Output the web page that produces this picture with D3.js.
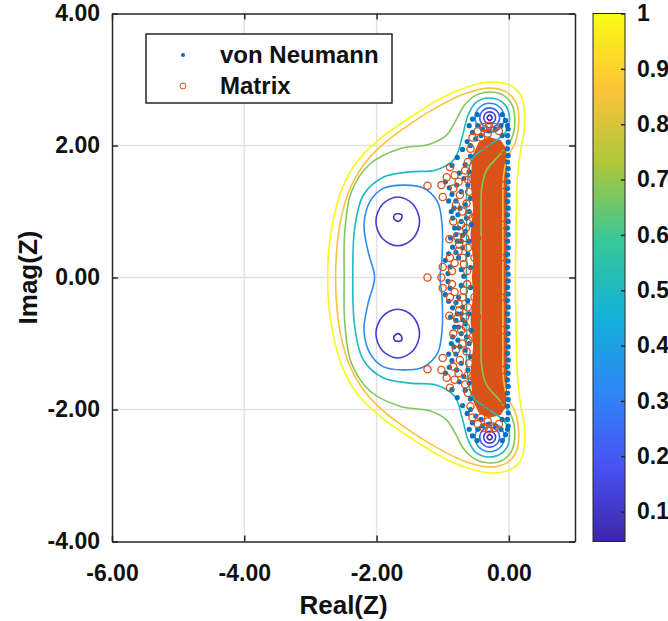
<!DOCTYPE html>
<html>
<head>
<meta charset="utf-8">
<script src="https://cdn.jsdelivr.net/npm/d3@7"></script>
<style>
  body { margin: 0; background: #fff; }
  svg { display: block; }
  text { font-family: "Liberation Sans", Arial, sans-serif; font-weight: bold; fill: #111; }
</style>
</head>
<body>
<div id="chart"></div>
<script>
// axis ticks
const xTicks = [-6, -4, -2, 0];
const yTicks = [-4, -2, 0, 2, 4];
const cbTicks = [0.1, 0.2, 0.3, 0.4, 0.5, 0.6, 0.7, 0.8, 0.9, 1];
const cbRange = [0.046, 1];
const parula = ['#3e26a8', '#4852f4', '#2e87f7', '#12b1d6', '#37c897', '#abc739', '#fec338', '#f9fb15'];

// contour lines (Real, Imag)
const lvl100 = [[0.10,0],[0.11,0.8],[0.13,1.5],[0.18,1.95],[0.23,2.2],[0.24,2.5],[0.17,2.78],[0.0,2.92],[-0.3,2.96],[-0.65,2.88],[-1.05,2.7],[-1.5,2.42],[-1.95,2.1],[-2.3,1.75],[-2.52,1.35],[-2.65,0.9],[-2.72,0.45],[-2.74,0],[-2.72,-0.45],[-2.65,-0.9],[-2.52,-1.35],[-2.3,-1.75],[-1.95,-2.1],[-1.5,-2.42],[-1.05,-2.7],[-0.65,-2.88],[-0.3,-2.96],[0.0,-2.92],[0.17,-2.78],[0.24,-2.5],[0.23,-2.2],[0.18,-1.95],[0.13,-1.5],[0.11,-0.8]];
const lvl086 = [[-0.09,0],[-0.09,1.0],[-0.08,1.55],[-0.02,1.82],[0.1,2.05],[0.15,2.35],[0.12,2.62],[-0.02,2.8],[-0.29,2.87],[-0.65,2.79],[-1.05,2.6],[-1.5,2.32],[-1.9,2.02],[-2.2,1.7],[-2.42,1.3],[-2.54,0.88],[-2.6,0.45],[-2.62,0],[-2.6,-0.45],[-2.54,-0.88],[-2.42,-1.3],[-2.2,-1.7],[-1.9,-2.02],[-1.5,-2.32],[-1.05,-2.6],[-0.65,-2.79],[-0.29,-2.87],[-0.02,-2.8],[0.12,-2.62],[0.15,-2.35],[0.1,-2.05],[-0.02,-1.82],[-0.08,-1.55],[-0.09,-1.0]];
const lvl068 = [[-0.42,0],[-0.42,0.8],[-0.41,1.35],[-0.34,1.62],[-0.15,1.85],[0.04,2.1],[0.09,2.4],[0.03,2.65],[-0.12,2.78],[-0.29,2.81],[-0.5,2.76],[-0.68,2.6],[-0.8,2.38],[-0.95,2.15],[-1.2,2.02],[-1.65,1.95],[-2.1,1.72],[-2.38,1.3],[-2.48,0.7],[-2.49,0],[-2.48,-0.7],[-2.38,-1.3],[-2.1,-1.72],[-1.65,-1.95],[-1.2,-2.02],[-0.95,-2.15],[-0.8,-2.38],[-0.68,-2.6],[-0.5,-2.76],[-0.29,-2.81],[-0.12,-2.78],[0.03,-2.65],[0.09,-2.4],[0.04,-2.1],[-0.15,-1.85],[-0.34,-1.62],[-0.41,-1.35],[-0.42,-0.8]];
const lvl050 = [[-0.64,0],[-0.64,0.8],[-0.63,1.4],[-0.55,1.8],[-0.3,2.0],[-0.05,2.2],[0.01,2.42],[-0.07,2.63],[-0.29,2.72],[-0.5,2.65],[-0.62,2.45],[-0.7,2.15],[-0.82,1.8],[-1.1,1.63],[-1.5,1.6],[-1.9,1.52],[-2.2,1.25],[-2.33,0.75],[-2.36,0],[-2.33,-0.75],[-2.2,-1.25],[-1.9,-1.52],[-1.5,-1.6],[-1.1,-1.63],[-0.82,-1.8],[-0.7,-2.15],[-0.62,-2.45],[-0.5,-2.65],[-0.29,-2.72],[-0.07,-2.63],[0.01,-2.42],[-0.05,-2.2],[-0.3,-2.0],[-0.55,-1.8],[-0.63,-1.4],[-0.64,-0.8]];
const lvl033Lobes = [[-1.6,1.40],[-1.3,1.36],[-1.08,1.15],[-1.01,0.8],[-1.01,0.3],[-1.04,0],[-1.01,-0.3],[-1.01,-0.8],[-1.08,-1.15],[-1.3,-1.36],[-1.6,-1.40],[-1.9,-1.35],[-2.1,-1.15],[-2.19,-0.8],[-2.13,-0.4],[-2.03,0],[-2.13,0.4],[-2.19,0.8],[-2.1,1.15],[-1.9,1.35]];
const lvl033CapTop = [[-0.29,2.64],[-0.134,2.576],[-0.07,2.42],[-0.134,2.264],[-0.29,2.2],[-0.446,2.264],[-0.51,2.42],[-0.446,2.576]];
const lvl033CapBot = [[-0.29,-2.64],[-0.134,-2.576],[-0.07,-2.42],[-0.134,-2.264],[-0.29,-2.2],[-0.446,-2.264],[-0.51,-2.42],[-0.446,-2.576]];
const lvl022CapTop = [[-0.29,2.57],[-0.184,2.526],[-0.14,2.42],[-0.184,2.314],[-0.29,2.27],[-0.396,2.314],[-0.44,2.42],[-0.396,2.526]];
const lvl022CapBot = [[-0.29,-2.57],[-0.184,-2.526],[-0.14,-2.42],[-0.184,-2.314],[-0.29,-2.27],[-0.396,-2.314],[-0.44,-2.42],[-0.396,-2.526]];
const lvl012CapTop = [[-0.29,2.51],[-0.226,2.484],[-0.2,2.42],[-0.226,2.356],[-0.29,2.33],[-0.354,2.356],[-0.38,2.42],[-0.354,2.484]];
const lvl012CapBot = [[-0.29,-2.51],[-0.226,-2.484],[-0.2,-2.42],[-0.226,-2.356],[-0.29,-2.33],[-0.354,-2.356],[-0.38,-2.42],[-0.354,-2.484]];
const lvl012LobeTop = [[-1.68,1.22],[-1.45,1.11],[-1.35,0.85],[-1.45,0.59],[-1.68,0.48],[-1.91,0.59],[-2.01,0.85],[-1.91,1.11]];
const lvl012LobeBot = [[-1.68,-1.22],[-1.45,-1.11],[-1.35,-0.85],[-1.45,-0.59],[-1.68,-0.48],[-1.91,-0.59],[-2.01,-0.85],[-1.91,-1.11]];
const lvl006LobeTop = [[-1.72,0.96],[-1.62,0.95],[-1.63,0.88],[-1.68,0.85],[-1.74,0.9]];
const lvl006LobeBot = [[-1.72,-0.96],[-1.62,-0.95],[-1.63,-0.88],[-1.68,-0.85],[-1.74,-0.9]];
const lvl006CapTop = [[-0.29,2.46],[-0.25,2.42],[-0.29,2.38],[-0.33,2.42]];
const lvl006CapBot = [[-0.29,-2.46],[-0.25,-2.42],[-0.29,-2.38],[-0.33,-2.42]];

const contours = [
  { level: 1.0, pts: lvl100 }, { level: 0.86, pts: lvl086 }, { level: 0.68, pts: lvl068 },
  { level: 0.5, pts: lvl050 }, { level: 0.33, pts: lvl033Lobes }, { level: 0.33, pts: lvl033CapTop },
  { level: 0.33, pts: lvl033CapBot }, { level: 0.22, pts: lvl022CapTop }, { level: 0.22, pts: lvl022CapBot },
  { level: 0.12, pts: lvl012CapTop }, { level: 0.12, pts: lvl012CapBot }, { level: 0.12, pts: lvl012LobeTop },
  { level: 0.12, pts: lvl012LobeBot }, { level: 0.06, pts: lvl006LobeTop }, { level: 0.06, pts: lvl006LobeBot },
  { level: 0.06, pts: lvl006CapTop }, { level: 0.06, pts: lvl006CapBot }
];

// von Neumann points
const vonNeumann = [
  [-0.01,2.25],[-0.02,2.15],[-0.01,2.05],[-0.02,1.95],[-0.01,1.85],[-0.02,1.75],[-0.01,1.65],[-0.02,1.55],[-0.01,1.45],[-0.02,1.35],[-0.01,1.25],[-0.02,1.15],[-0.01,1.05],[-0.02,0.95],[-0.01,0.85],[-0.02,0.75],[-0.01,0.65],[-0.02,0.55],[-0.01,0.45],[-0.02,0.35],[-0.01,0.25],[-0.02,0.15],[-0.01,0.05],
  [-0.01,-2.25],[-0.02,-2.15],[-0.01,-2.05],[-0.02,-1.95],[-0.01,-1.85],[-0.02,-1.75],[-0.01,-1.65],[-0.02,-1.55],[-0.01,-1.45],[-0.02,-1.35],[-0.01,-1.25],[-0.02,-1.15],[-0.01,-1.05],[-0.02,-0.95],[-0.01,-0.85],[-0.02,-0.75],[-0.01,-0.65],[-0.02,-0.55],[-0.01,-0.45],[-0.02,-0.35],[-0.01,-0.25],[-0.02,-0.15],[-0.01,-0.05],
  [-0.6,2.3],[-0.55,2.4],[-0.48,2.47],[-0.1,2.47],[-0.05,2.38],[-0.02,2.3],[-0.55,2.2],[-0.47,2.3],[-0.4,2.25],[-0.3,2.22],[-0.2,2.25],[-0.12,2.3],[-0.5,2.1],[-0.42,2.15],[-0.1,2.15],[-0.58,2.0],
  [-0.6,-2.3],[-0.55,-2.4],[-0.48,-2.47],[-0.1,-2.47],[-0.05,-2.38],[-0.02,-2.3],[-0.55,-2.2],[-0.47,-2.3],[-0.4,-2.25],[-0.3,-2.22],[-0.2,-2.25],[-0.12,-2.3],[-0.5,-2.1],[-0.42,-2.15],[-0.1,-2.15],[-0.58,-2.0],
  [-0.86,1.7],[-0.78,1.82],[-0.7,1.94],[-0.63,2.06],[-0.75,1.58],[-0.66,1.71],[-0.58,1.84],
  [-0.86,-1.7],[-0.78,-1.82],[-0.7,-1.94],[-0.63,-2.06],[-0.75,-1.58],[-0.66,-1.71],[-0.58,-1.84],
  [-0.96,1.45],[-0.9,1.36],[-0.86,1.26],[-0.91,1.16],[-0.83,1.05],[-0.77,0.95],[-0.72,0.85],[-0.76,0.75],[-0.7,0.64],[-0.78,0.55],[-0.85,0.46],[-0.91,0.36],[-0.96,0.26],[-0.89,0.16],[-0.92,0.06],
  [-0.96,-1.45],[-0.9,-1.36],[-0.86,-1.26],[-0.91,-1.16],[-0.83,-1.05],[-0.77,-0.95],[-0.72,-0.85],[-0.76,-0.75],[-0.7,-0.64],[-0.78,-0.55],[-0.85,-0.46],[-0.91,-0.36],[-0.96,-0.26],[-0.89,-0.16],[-0.92,-0.06],
  [-0.68,1.5],[-0.72,1.3],[-0.66,1.1],[-0.64,0.9],[-0.66,0.7],[-0.7,0.45],[-0.76,0.3],[-0.72,0.12],[-0.8,0.38],[-0.8,0.65],[-0.8,1.16],[-0.79,1.4],
  [-0.68,-1.5],[-0.72,-1.3],[-0.66,-1.1],[-0.64,-0.9],[-0.66,-0.7],[-0.7,-0.45],[-0.76,-0.3],[-0.72,-0.12],[-0.8,-0.38],[-0.8,-0.65],[-0.8,-1.16],[-0.79,-1.4],
  [-0.6,1.6],[-0.62,1.4],[-0.58,1.2],[-0.6,1.0],[-0.57,0.8],[-0.6,0.55],[-0.62,0.35],[-0.58,0.15],[-0.85,0.9],[-0.88,0.6],[-0.82,0.75],[-0.87,1.0],[-0.74,1.05],[-0.72,0.55],[-0.68,0.02],
  [-0.6,-1.6],[-0.62,-1.4],[-0.58,-1.2],[-0.6,-1.0],[-0.57,-0.8],[-0.6,-0.55],[-0.62,-0.35],[-0.58,-0.15],[-0.85,-0.9],[-0.88,-0.6],[-0.82,-0.75],[-0.87,-1.0],[-0.74,-1.05],[-0.72,-0.55]
];

// matrix eigenvalues: dense cloud outline plus the distinguishable circles
const matrixCloud = [[-0.45,2.06],[-0.3,2.13],[-0.12,2.08],[-0.04,1.95],[-0.02,1.5],[-0.02,0.5],[-0.02,-0.5],[-0.02,-1.5],[-0.04,-1.95],[-0.12,-2.08],[-0.3,-2.13],[-0.45,-2.06],[-0.55,-1.85],[-0.58,-1.45],[-0.54,-1.05],[-0.58,-0.65],[-0.54,-0.25],[-0.56,0],[-0.54,0.25],[-0.58,0.65],[-0.54,1.05],[-0.58,1.45],[-0.55,1.85]];
const matrix = [
  [-1.23,0],[-1.02,0],
  [-1.23,1.39],[-1.02,1.4],[-1.0,1.22],[-0.89,1.67],[-0.94,1.52],[-1.0,0.16],[-0.89,0.3],
  [-1.23,-1.39],[-1.02,-1.4],[-1.0,-1.22],[-0.89,-1.67],[-0.94,-1.52],[-1.0,-0.16],[-0.89,-0.3],
  [-0.82,1.55],[-0.76,1.45],[-0.84,1.35],[-0.74,1.25],[-0.8,1.1],[-0.7,1.0],[-0.72,0.8],[-0.66,0.6],[-0.75,0.5],[-0.82,0.22],[-0.86,0.1],[-0.7,0.3],[-0.68,0.2],
  [-0.82,-1.55],[-0.76,-1.45],[-0.84,-1.35],[-0.74,-1.25],[-0.8,-1.1],[-0.7,-1.0],[-0.72,-0.8],[-0.66,-0.6],[-0.75,-0.5],[-0.82,-0.22],[-0.86,-0.1],[-0.7,-0.3],[-0.68,-0.2],
  [-0.62,1.48],[-0.6,1.3],[-0.64,1.12],[-0.61,0.95],[-0.65,0.75],[-0.62,0.45],[-0.63,0.1],[-0.78,0.62],[-0.76,0.4],[-0.84,0.85],[-0.9,0.58],
  [-0.62,-1.48],[-0.6,-1.3],[-0.64,-1.12],[-0.61,-0.95],[-0.65,-0.75],[-0.62,-0.45],[-0.63,-0.1],[-0.78,-0.62],[-0.76,-0.4],[-0.84,-0.85],[-0.9,-0.58],
  [-0.55,2.12],[-0.47,2.22],[-0.38,2.28],[-0.3,2.3],[-0.22,2.28],[-0.15,2.22],[-0.42,2.12],[-0.32,2.18],[-0.58,1.95],[-0.62,1.75],[-0.66,1.62],
  [-0.55,-2.12],[-0.47,-2.22],[-0.38,-2.28],[-0.3,-2.3],[-0.22,-2.28],[-0.15,-2.22],[-0.42,-2.12],[-0.32,-2.18],[-0.58,-1.95],[-0.62,-1.75],[-0.66,-1.62],
  [-0.55,1.5],[-0.5,1.2],[-0.55,0.9],[-0.48,0.6],[-0.52,0.3],[-0.45,1.8],[-0.35,2.0],[-0.12,1.95],[-0.1,1.4],[-0.1,0.8],[-0.12,0.3],
  [-0.55,-1.5],[-0.5,-1.2],[-0.55,-0.9],[-0.48,-0.6],[-0.52,-0.3],[-0.45,-1.8],[-0.35,-2.0],[-0.12,-1.95],[-0.1,-1.4],[-0.1,-0.8],[-0.12,-0.3]
];

const W = 668, H = 621;
const plot = { left: 112, right: 575, top: 13.5, bottom: 541.5 };
const blue = '#0072BD', orange = '#D95319', axisColor = '#262626';

const svg = d3.select('#chart').append('svg').attr('width', W).attr('height', H);

const x = d3.scaleLinear().domain([-6, 1]).range([plot.left, plot.right]);
const y = d3.scaleLinear().domain([-4, 4]).range([plot.bottom, plot.top]);

// parula colour scale over the colorbar range
const stopVals = parula.map((c, i) => cbRange[0] + (i / (parula.length - 1)) * (cbRange[1] - cbRange[0]));
const color = d3.scaleLinear().domain(stopVals).range(parula).clamp(true);

// grid
const grid = svg.append('g').attr('stroke', '#e2e2e2').attr('stroke-width', 1.5);
grid.selectAll('.gx').data(xTicks.filter((d) => d > -6)).join('line')
  .attr('x1', (d) => x(d)).attr('x2', (d) => x(d)).attr('y1', plot.top).attr('y2', plot.bottom);
grid.selectAll('.gy').data(yTicks.filter((d) => d > -4 && d < 4)).join('line')
  .attr('x1', plot.left).attr('x2', plot.right).attr('y1', (d) => y(d)).attr('y2', (d) => y(d));

// dense matrix cloud
svg.append('path').datum(matrixCloud)
  .attr('d', d3.line().x((d) => x(d[0])).y((d) => y(d[1])).curve(d3.curveLinearClosed))
  .attr('fill', orange);

// contour lines
const contourLine = d3.line().x((p) => x(p[0])).y((p) => y(p[1])).curve(d3.curveCatmullRomClosed.alpha(0.5));
svg.append('g').selectAll('path').data(contours).join('path')
  .attr('d', (d) => contourLine(d.pts))
  .attr('fill', 'none')
  .attr('stroke', (d) => color(d.level))
  .attr('stroke-width', 1.6);

// von Neumann dots
svg.append('g').selectAll('circle').data(vonNeumann).join('circle')
  .attr('cx', (d) => x(d[0])).attr('cy', (d) => y(d[1]))
  .attr('r', 2.6).attr('fill', blue);

// matrix circles
svg.append('g').selectAll('circle').data(matrix).join('circle')
  .attr('cx', (d) => x(d[0])).attr('cy', (d) => y(d[1]))
  .attr('r', 3.6).attr('fill', 'none').attr('stroke', orange).attr('stroke-width', 1.3);

// axes
const fmt = (d) => d.toFixed(2);
const styleAxis = (g) => {
  g.selectAll('.domain, .tick line').attr('stroke', axisColor).attr('stroke-width', 1.5);
  g.selectAll('text').style('font-size', '23px').style('font-family', '"Liberation Sans", Arial, sans-serif')
    .style('font-weight', 'bold').attr('fill', '#111');
};
svg.append('g').attr('transform', `translate(0,${plot.bottom})`)
  .call(d3.axisBottom(x).tickValues(xTicks).tickFormat(fmt).tickSizeInner(-6).tickSizeOuter(0).tickPadding(23))
  .call(styleAxis);
svg.append('g').attr('transform', `translate(${plot.left},0)`)
  .call(d3.axisLeft(y).tickValues(yTicks).tickFormat(fmt).tickSizeInner(-6).tickSizeOuter(0).tickPadding(12))
  .call(styleAxis);
svg.append('g').attr('transform', `translate(0,${plot.top})`)
  .call(d3.axisTop(x).tickValues(xTicks).tickFormat('').tickSizeInner(-6).tickSizeOuter(0))
  .call(styleAxis);
svg.append('g').attr('transform', `translate(${plot.right},0)`)
  .call(d3.axisRight(y).tickValues(yTicks).tickFormat('').tickSizeInner(-6).tickSizeOuter(0))
  .call(styleAxis);

// axis labels
svg.append('text').attr('x', (plot.left + plot.right) / 2).attr('y', 614)
  .attr('text-anchor', 'middle').style('font-size', '26px').text('Real(Z)');
svg.append('text').attr('transform', `translate(37,${(plot.top + plot.bottom) / 2}) rotate(-90)`)
  .attr('text-anchor', 'middle').style('font-size', '26px').text('Imag(Z)');

// legend
const lg = svg.append('g');
lg.append('rect').attr('x', 146).attr('y', 34).attr('width', 246).attr('height', 69)
  .attr('fill', '#fff').attr('stroke', axisColor).attr('stroke-width', 1.5);
lg.append('circle').attr('cx', 183).attr('cy', 55).attr('r', 2).attr('fill', blue);
lg.append('circle').attr('cx', 183).attr('cy', 86).attr('r', 3).attr('fill', 'none').attr('stroke', orange).attr('stroke-width', 1);
lg.append('text').attr('x', 220).attr('y', 63).style('font-size', '24px').text('von Neumann');
lg.append('text').attr('x', 220).attr('y', 94).style('font-size', '24px').text('Matrix');

// colorbar
const cb = { x: 593, w: 32 };
const cy = d3.scaleLinear().domain(cbRange).range([plot.bottom, plot.top]);
const grad = svg.append('defs').append('linearGradient').attr('id', 'parula')
  .attr('x1', 0).attr('y1', 1).attr('x2', 0).attr('y2', 0);
grad.selectAll('stop').data(parula).join('stop')
  .attr('offset', (d, i) => i / (parula.length - 1)).attr('stop-color', (d) => d);
svg.append('rect').attr('x', cb.x).attr('y', plot.top).attr('width', cb.w).attr('height', plot.bottom - plot.top)
  .attr('fill', 'url(#parula)').attr('stroke', axisColor).attr('stroke-width', 1);
svg.append('g').attr('transform', `translate(${cb.x + cb.w},0)`)
  .call(d3.axisRight(cy).tickValues(cbTicks).tickFormat((d) => (d === 1 ? '1' : d.toFixed(1)))
    .tickSizeInner(-4).tickSizeOuter(0).tickPadding(12))
  .call(styleAxis)
  .call((g) => g.select('.domain').remove());
</script>
</body>
</html>
